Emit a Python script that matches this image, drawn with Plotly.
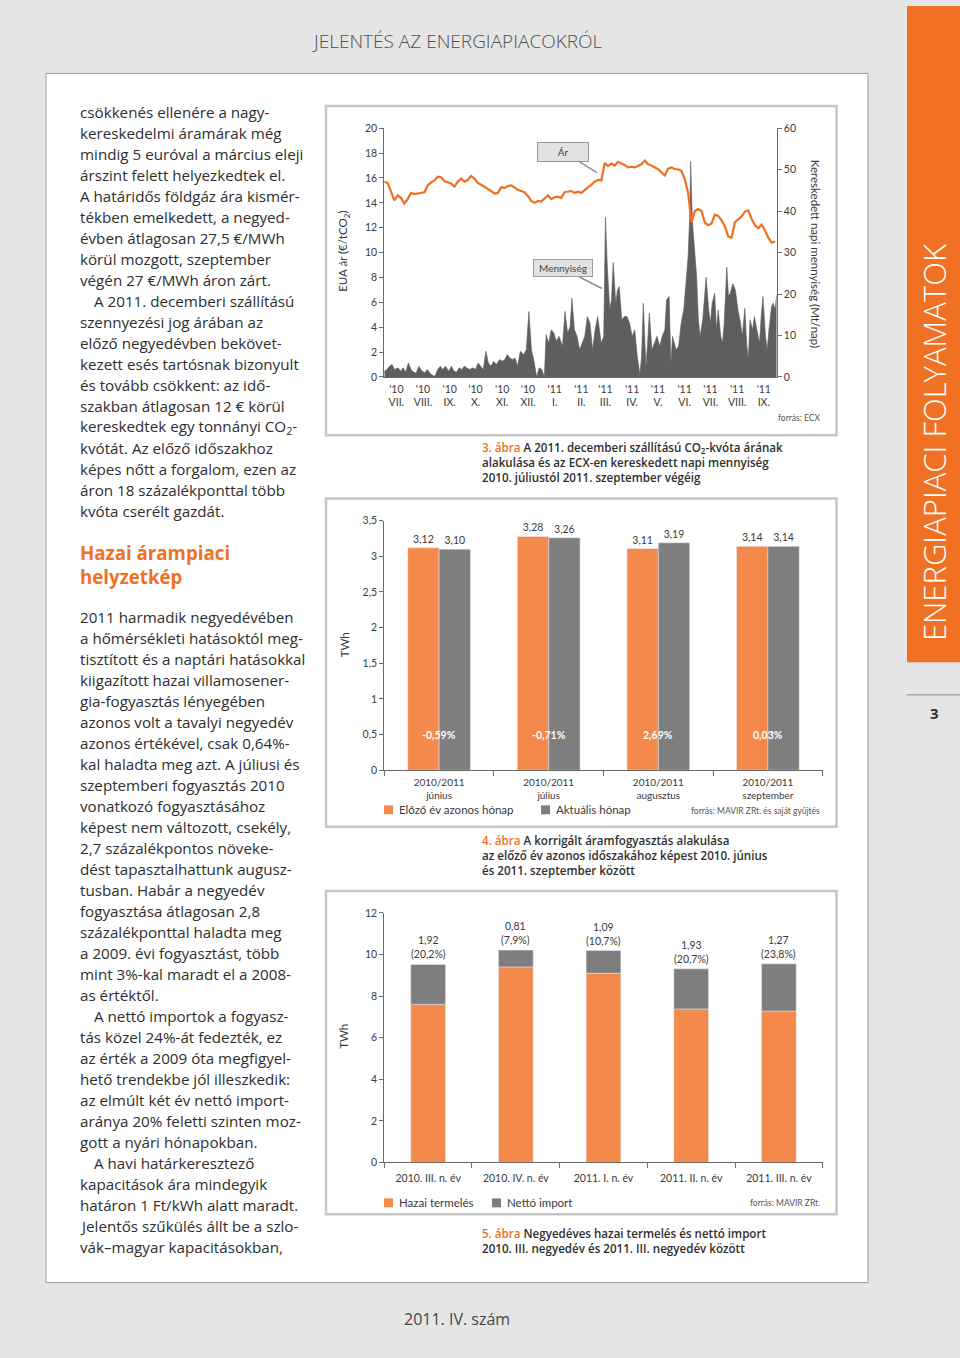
import plotly.graph_objects as go
import pandas as pd

W, H = 960, 1358


def px(x):
    return x / W


def py(y):
    return 1 - y / H


# ---------------- 3. ábra data (EUA price & traded volume) ----------------
price_start, price_end = "2010-07-01", "2011-09-28"
eua_price = [15.7, 15.6, 14.9, 14.2, 14.6, 14.4, 13.95, 14.3, 14.8, 14.7, 14.75, 14.8, 14.85, 15.4,
             15.65, 15.8, 16.1, 16.05, 15.75, 15.65, 15.55, 15.3, 15.7, 15.95, 15.7, 15.85, 16.15,
             15.95, 15.6, 15.45, 15.3, 15.15, 14.95, 14.75, 14.8, 15.25, 15.2, 15.35, 15.4, 15.25,
             15.05, 14.95, 14.85, 14.55, 14.15, 14.0, 14.15, 14.1, 14.35, 14.6, 14.3, 14.45, 14.5,
             14.4, 14.85, 14.9, 14.95, 14.8, 14.9, 14.8, 15.05, 15.25, 15.45, 15.7, 15.85, 15.8,
             17.2, 16.95, 17.15, 17.0, 17.3, 17.2, 17.05, 16.85, 16.9, 16.85, 17.0, 17.1, 17.4, 17.1,
             17.0, 16.85, 16.7, 16.45, 16.2, 16.75, 16.85, 16.7, 16.7, 16.55, 15.9, 14.8, 12.4,
             13.35, 13.5, 13.35, 12.4, 12.2, 12.35, 13.05, 12.95, 12.6, 12.1, 11.3, 11.2, 12.45,
             12.65, 12.9, 13.3, 13.4, 12.7, 12.2, 11.95, 12.25, 11.8, 11.2, 10.8, 10.9]

vol_start = "2010-07-01"
vol_days = [0, 3, 6, 9, 12, 16, 19, 22, 25, 28, 31, 34, 37, 40, 44, 47, 50, 53, 56, 59, 62, 65, 68,
            71, 75, 78, 81, 84, 87, 90, 93, 96, 99, 103, 106, 109, 112, 115, 118, 121, 124, 127,
            130, 134, 137, 140, 143, 146, 149, 152, 155, 158, 162, 165, 168, 171, 174, 177, 180,
            183, 186, 188, 191, 194, 197, 200, 203, 207, 210, 213, 216, 218, 221, 224, 227, 230,
            233, 236, 239, 242, 245, 248, 252, 255, 257, 259, 262, 264, 266, 269, 271, 273, 276,
            279, 282, 285, 288, 291, 294, 297, 299, 301, 304, 306, 308, 311, 314, 317, 320, 323,
            326, 328, 331, 333, 335, 339, 342, 345, 348, 350, 353, 355, 356, 358, 360, 363, 365,
            367, 370, 372, 374, 377, 379, 381, 384, 386, 388, 391, 393, 395, 398, 400, 402, 405,
            408, 411, 414, 416, 419, 421, 423, 425, 428, 430, 433, 436, 438, 440, 443, 445, 447,
            450, 452, 454, 456]
vol_mt = [1.4, 1.8, 2.6, 3.0, 1.8, 2.2, 1.4, 2.2, 1.2, 3.4, 1.8, 1.2, 0.9, 2.6, 1.4, 1.0, 1.8, 0.9,
          0.4, 0.2, 1.8, 2.6, 1.8, 2.6, 1.4, 2.6, 1.4, 1.2, 2.2, 1.8, 2.6, 2.2, 1.8, 2.2, 1.8, 3.4,
          2.6, 1.8, 6.2, 3.4, 2.6, 3.8, 3.0, 4.2, 3.8, 4.2, 5.4, 4.6, 4.2, 4.6, 2.6, 6.2, 5.4, 6.6,
          15.8, 6.6, 3.8, 0.0, 2.2, 1.8, 0.0, 10.2, 8.2, 11.4, 10.6, 8.6, 9.8, 7.4, 15.8, 10.6,
          12.2, 19.0, 11.4, 9.8, 6.6, 8.2, 9.8, 14.6, 13.0, 6.6, 11.4, 14.6, 8.2, 9.8, 38.5, 27.3,
          16.2, 18.6, 27.7, 17.8, 21.0, 21.8, 13.8, 14.6, 14.6, 13.0, 9.8, 11.4, 5.0, 0.6, 5.0,
          17.8, 2.6, 8.2, 15.4, 6.6, 8.2, 9.8, 7.4, 9.8, 11.4, 18.6, 19.4, 3.4, 9.8, 6.6, 7.4,
          13.0, 16.2, 21.0, 28.9, 39.3, 52.0, 37.7, 31.3, 24.1, 13.8, 9.8, 13.8, 19.4, 24.1, 16.2,
          13.0, 17.8, 20.2, 11.4, 16.2, 9.8, 8.2, 13.0, 26.5, 19.4, 20.2, 22.5, 21.0, 16.2, 13.0,
          9.8, 16.6, 8.2, 4.2, 13.8, 11.4, 14.6, 11.4, 8.2, 14.6, 19.4, 9.8, 6.6, 11.4, 17.0,
          17.8, 16.2, 19.8]
month_years = ["'10"] * 6 + ["'11"] * 9
month_romans = ["VII.", "VIII.", "IX.", "X.", "XI.", "XII.", "I.", "II.", "III.", "IV.", "V.",
                "VI.", "VII.", "VIII.", "IX."]

# ---------------- 4. ábra data ----------------
months2 = ["június", "július", "augusztus", "szeptember"]
period2 = "2010/2011"
prev_year = [3.12, 3.28, 3.11, 3.14]
current = [3.10, 3.26, 3.19, 3.14]
change_labels = ["-0,59%", "-0,71%", "2,69%", "0,03%"]

# ---------------- 5. ábra data ----------------
quarters = ["2010. III. n. év", "2010. IV. n. év", "2011. I. n. év", "2011. II. n. év",
            "2011. III. n. év"]
domestic = [7.60, 9.40, 9.10, 7.38, 7.28]
net_import = [1.92, 0.81, 1.09, 1.93, 2.27]
import_labels = ["1,92", "0,81", "1,09", "1,93", "1,27"]
import_share = ["(20,2%)", "(7,9%)", "(10,7%)", "(20,7%)", "(23,8%)"]

ORANGE = "#f07124"
BAR_OR = "#f3894a"
BAR_GR = "#7e7e7e"
LINE_OR = "#f07020"
VOL_GR = "#5e5e5e"
TXT = "#3a3a3a"
FONT = "Lato"
BODY = "Open Sans"

fig = go.Figure()

# ---- chart 1 traces ----
vol_dates = pd.Timestamp(vol_start) + pd.to_timedelta(vol_days, unit="D")
fig.add_trace(go.Scatter(x=vol_dates, y=vol_mt, mode="lines", line=dict(color=VOL_GR, width=0.6),
                         fill="tozeroy", fillcolor=VOL_GR, xaxis="x", yaxis="y",
                         name="Mennyiség", showlegend=False, hoverinfo="skip"))
price_dates = pd.date_range(price_start, price_end, periods=len(eua_price))
fig.add_trace(go.Scatter(x=price_dates, y=eua_price, mode="lines",
                         line=dict(color=LINE_OR, width=2.2), xaxis="x", yaxis="y2",
                         name="Ár", showlegend=False, hoverinfo="skip"))

# ---- chart 2 traces ----
bw2 = 0.286
fig.add_trace(go.Bar(x=months2, y=prev_year, xaxis="x2", yaxis="y3", marker_color=BAR_OR,
                     width=bw2, offset=-bw2, text=prev_year, texttemplate="%{y:.2f}",
                     textposition="outside", textfont=dict(size=10.5, color=TXT, family=FONT),
                     cliponaxis=False, showlegend=False, name="Előző év azonos hónap"))
fig.add_trace(go.Bar(x=months2, y=current, xaxis="x2", yaxis="y3", marker_color=BAR_GR,
                     width=bw2, offset=0, text=current, texttemplate="%{y:.2f}",
                     textposition="outside", textfont=dict(size=10.5, color=TXT, family=FONT),
                     cliponaxis=False, showlegend=False, name="Aktuális hónap"))

# ---- chart 3 traces ----
bw3 = 0.396
fig.add_trace(go.Bar(x=quarters, y=domestic, xaxis="x3", yaxis="y4", marker_color=BAR_OR,
                     width=bw3, offset=-bw3 / 2, showlegend=False, name="Hazai termelés"))
fig.add_trace(go.Bar(x=quarters, y=net_import, base=domestic, xaxis="x3", yaxis="y4",
                     marker_color=BAR_GR, width=bw3, offset=-bw3 / 2, showlegend=False,
                     name="Nettó import"))

axis_common = dict(showgrid=False, zeroline=False, showline=True, linecolor="#6a6a6a",
                   linewidth=1, tickcolor="#6a6a6a", tickfont=dict(family=FONT, size=10.5, color=TXT))

tick_dates = pd.date_range("2010-07-01", periods=15, freq="MS") + pd.Timedelta(days=14)
month_text = [f"{a}<br>{b}" for a, b in zip(month_years, month_romans)]
cat2_text = [f"{period2}<br>{m}" for m in months2]

fig.update_layout(
    width=W, height=H, margin=dict(l=0, r=0, t=0, b=0),
    paper_bgcolor="#e5e5e5", plot_bgcolor="rgba(0,0,0,0)",
    separators=",.", barmode="group",
    font=dict(family=FONT, color=TXT),
    xaxis=dict(axis_common, domain=[px(384.3), px(776.7)], anchor="y", type="date",
               range=["2010-07-01", "2011-09-30"], tickvals=tick_dates, ticktext=month_text,
               ticks="", ticklabelstandoff=2),
    yaxis=dict(axis_common, domain=[py(374.3), py(123.3)], anchor="x", side="right",
               range=[0, 60], dtick=10, ticks="outside", ticklen=4),
    yaxis2=dict(axis_common, overlaying="y", anchor="x", side="left", range=[0, 20], dtick=2,
                ticks="outside", ticklen=4),
    xaxis2=dict(axis_common, domain=[px(384.3), px(822.7)], anchor="y3", type="category",
                tickson="boundaries", ticks="outside", ticklen=5, range=[-0.5, 3.5],
                tickvals=months2, ticktext=cat2_text, ticklabelstandoff=3,
                tickfont=dict(family=FONT, size=10, color=TXT)),
    yaxis3=dict(axis_common, domain=[py(771), py(519.3)], anchor="x2", range=[0, 3.5],
                dtick=0.5, ticks="outside", ticklen=4),
    xaxis3=dict(axis_common, domain=[px(384.3), px(822.7)], anchor="y4", type="category",
                tickson="boundaries", ticks="outside", ticklen=5, range=[-0.5, 4.5],
                ticklabelstandoff=6),
    yaxis4=dict(axis_common, domain=[py(1166.7), py(915)], anchor="x3", range=[0, 12],
                dtick=2, ticks="outside", ticklen=4),
)

shapes = []
# page white panel
shapes.append(dict(type="rect", xref="paper", yref="paper", x0=px(46), x1=px(868), y0=py(1288),
                   y1=py(68), fillcolor="white", line=dict(color="#9c9c9c", width=1), layer="below"))
# chart boxes
for (t, b) in [(101, 433), (497, 828), (893, 1219)]:
    shapes.append(dict(type="rect", xref="paper", yref="paper", x0=px(326), x1=px(836.5),
                       y0=py(b), y1=py(t), fillcolor="white",
                       line=dict(color="#c6c6c6", width=2.5), layer="below"))
# sidebar
shapes.append(dict(type="rect", xref="paper", yref="paper", x0=px(907), x1=1, y0=py(662), y1=1,
                   fillcolor=ORANGE, line=dict(width=0), layer="below"))
shapes.append(dict(type="line", xref="paper", yref="paper", x0=px(907), x1=1, y0=py(695),
                   y1=py(695), line=dict(color="#8a8a8a", width=1)))
# legend squares
for (x0, yc, col) in [(384, 811, BAR_OR), (541, 811, BAR_GR), (384, 1207.5, BAR_OR),
                      (492, 1207.5, BAR_GR)]:
    shapes.append(dict(type="rect", xref="paper", yref="paper", x0=px(x0), x1=px(x0 + 9),
                       y0=py(yc + 4.5), y1=py(yc - 4.5), fillcolor=col, line=dict(width=0)))
fig.update_layout(shapes=shapes)

ann = []


def text(x, y, s, size=15, color=TXT, xanchor="left", weight=None, angle=0, family=FONT,
         align="left"):
    f = dict(family=family, size=size, color=color)
    if weight:
        f["weight"] = weight
    ann.append(dict(x=px(x), y=py(y), xref="paper", yref="paper", text=s, showarrow=False,
                    xanchor=xanchor, yanchor="middle", font=f, textangle=angle, align=align))


# header/footer
text(457, 35, "JELENTÉS AZ ENERGIAPIACOKRÓL", size=19, color="#505050", xanchor="center",
     weight=300, family=BODY)
text(457, 1325, "2011. IV. szám", size=16, color="#454545", xanchor="center", family=BODY)
text(934, 440, "ENERGIAPIACI FOLYAMATOK", size=31, color="white", xanchor="center", weight=300,
     angle=-90, family=BODY)
text(934, 713, "3", size=15, color="#333333", xanchor="center", weight=700, family=BODY)

# body text
block1 = ["csökkenés ellenére a nagy-", "kereskedelmi áramárak még",
          "mindig 5 euróval a március eleji", "árszint felett helyezkedtek el.",
          "A határidős földgáz ára kismér-", "tékben emelkedett, a negyed-",
          "évben átlagosan 27,5 €/MWh", "körül mozgott, szeptember", "végén 27 €/MWh áron zárt.",
          ">A 2011. decemberi szállítású", "szennyezési jog árában az",
          "előző negyedévben bekövet-", "kezett esés tartósnak bizonyult",
          "és tovább csökkent: az idő-", "szakban átlagosan 12 € körül",
          "kereskedtek egy tonnányi CO<sub>2</sub>-", "kvótát. Az előző időszakhoz",
          "képes nőtt a forgalom, ezen az", "áron 18 százalékponttal több", "kvóta cserélt gazdát."]
block2 = ["2011 harmadik negyedévében", "a hőmérsékleti hatásoktól meg-",
          "tisztított és a naptári hatásokkal", "kiigazított hazai villamosener-",
          "gia-fogyasztás lényegében", "azonos volt a tavalyi negyedév",
          "azonos értékével, csak 0,64%-", "kal haladta meg azt. A júliusi és",
          "szeptemberi fogyasztás 2010", "vonatkozó fogyasztásához",
          "képest nem változott, csekély,", "2,7 százalékpontos növeke-",
          "dést tapasztalhattunk augusz-", "tusban. Habár a negyedév",
          "fogyasztása átlagosan 2,8", "százalékponttal haladta meg",
          "a 2009. évi fogyasztást, több", "mint 3%-kal maradt el a 2008-", "as értéktől.",
          ">A nettó importok a fogyasz-", "tás közel 24%-át fedezték, ez",
          "az érték a 2009 óta megfigyel-", "hető trendekbe jól illeszkedik:",
          "az elmúlt két év nettó import-", "aránya 20% feletti szinten moz-",
          "gott a nyári hónapokban.", ">A havi határkeresztező", "kapacitások ára mindegyik",
          "határon 1 Ft/kWh alatt maradt.", "Jelentős szűkülés állt be a szlo-",
          "vák–magyar kapacitásokban,"]
for start, block in [(107, block1), (616, block2)]:
    for i, line in enumerate(block):
        x = 78
        if line.startswith(">"):
            line = line[1:]
            x = 92
        text(x, start + i * 21.2, line, size=15.2, color="#2e2e2e", family=BODY)
text(78, 551, "Hazai árampiaci", size=18.7, color=ORANGE, weight=700, family=BODY)
text(78, 576, "helyzetkép", size=18.7, color=ORANGE, weight=700, family=BODY)

# captions (one block each)
cap = "<span style='color:%s'>%s</span> " % (ORANGE, "{}")
captions = [
    (461, [cap.format("3. ábra") + "A 2011. decemberi szállítású CO<sub>2</sub>-kvóta árának",
           "alakulása és az ECX-en kereskedett napi mennyiség",
           "2010. júliustól 2011. szeptember végéig"]),
    (857, [cap.format("4. ábra") + "A korrigált áramfogyasztás alakulása",
           "az előző év azonos időszakához képest 2010. június",
           "és 2011. szeptember között"]),
    (1246, [cap.format("5. ábra") + "Negyedéves hazai termelés és nettó import",
            "2010. III. negyedév és 2011. III. negyedév között"]),
]
for y, lines in captions:
    text(480, y, "<br>".join(lines), size=11.6, color="#2e2e2e", weight=600, family=BODY)

# chart 1 titles and labels
text(344, 248, "EUA ár (€/tCO<sub>2</sub>)", size=11.5, xanchor="center", angle=-90)
text(815, 250, "Kereskedett napi mennyiség (Mt/nap)", size=11.5, xanchor="center", angle=90)
text(822, 416, "forrás: ECX", size=8.5, color="#555", xanchor="right")
ann.append(dict(x=px(597), y=py(168), xref="paper", yref="paper", text="Ár", showarrow=True,
                ax=-34, ay=-21, arrowhead=0, arrowwidth=1.5, arrowcolor="#8f8f8f",
                bgcolor="#e2e2e2", bordercolor="#9a9a9a", borderwidth=1, borderpad=3, width=44,
                font=dict(family=FONT, size=10, color="#444")))
ann.append(dict(x=px(602), y=py(285), xref="paper", yref="paper", text="Mennyiség",
                showarrow=True, ax=-39, ay=-20, arrowhead=0, arrowwidth=1.5,
                arrowcolor="#8f8f8f", bgcolor="#e2e2e2", bordercolor="#9a9a9a", borderwidth=1,
                borderpad=2, width=54, font=dict(family=FONT, size=10, color="#444")))

# chart 2 labels
text(344, 645, "TWh", size=11.5, xanchor="center", angle=-90)
for m, lab in zip(months2, change_labels):
    ann.append(dict(x=m, y=0.5, xref="x2", yref="y3", text=lab, showarrow=False,
                    font=dict(family=FONT, size=10.5, color="white", weight=700)))
text(397, 811, "Előző év azonos hónap", size=11.5)
text(554, 811, "Aktuális hónap", size=11.5)
text(822, 812, "forrás: MAVIR ZRt. és saját gyűjtés", size=8.5, color="#555", xanchor="right")

# chart 3 labels
text(344, 1040, "TWh", size=11.5, xanchor="center", angle=-90)
for q, d, n, l1, l2 in zip(quarters, domestic, net_import, import_labels, import_share):
    ann.append(dict(x=q, y=d + n, xref="x3", yref="y4", text=f"{l1}<br>{l2}", showarrow=False,
                    yanchor="bottom", yshift=2,
                    font=dict(family=FONT, size=10.5, color=TXT)))
text(397, 1207.5, "Hazai termelés", size=11.5)
text(505, 1207.5, "Nettó import", size=11.5)
text(822, 1208, "forrás: MAVIR ZRt.", size=8.5, color="#555", xanchor="right")

fig.update_layout(annotations=ann)
fig.write_html("out.html", config={"displayModeBar": False},
               post_script="document.body.style.margin='0px';")
